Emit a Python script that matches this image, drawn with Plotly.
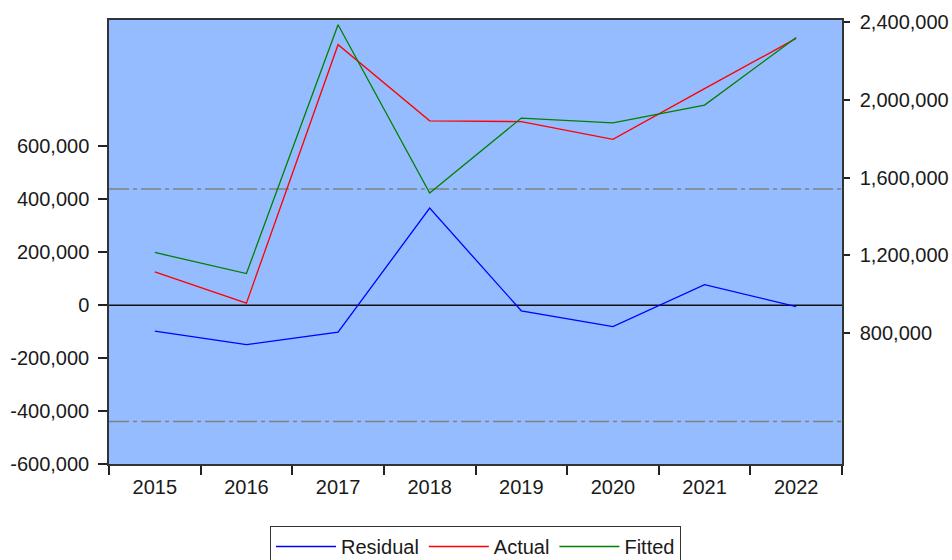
import plotly.graph_objects as go

years = ["2015", "2016", "2017", "2018", "2019", "2020", "2021", "2022"]
residual = [-98000, -149000, -102000, 367000, -21000, -81000, 78000, -5000]
actual = [1116000, 955000, 2282000, 1891000, 1887000, 1796000, 2056000, 2314000]
fitted = [1215000, 1107000, 2384000, 1520000, 1905000, 1880000, 1972000, 2319000]

left_ticks = [-600000, -400000, -200000, 0, 200000, 400000, 600000]
right_ticks = [800000, 1200000, 1600000, 2000000, 2400000]
std_band = 439000

FONT = "Liberation Sans, Arial, sans-serif"
TXT = "#1a1a1a"

fig = go.Figure()
fig.add_trace(go.Scatter(x=years, y=residual, name="Residual", mode="lines",
                         line=dict(color="#0000FF", width=1.3), yaxis="y"))
fig.add_trace(go.Scatter(x=years, y=actual, name="Actual", mode="lines",
                         line=dict(color="#FF0000", width=1.3), yaxis="y2"))
fig.add_trace(go.Scatter(x=years, y=fitted, name="Fitted", mode="lines",
                         line=dict(color="#008000", width=1.3), yaxis="y2"))

for v in (std_band, -std_band):
    fig.add_shape(type="line", xref="paper", yref="y", x0=0, x1=1, y0=v, y1=v,
                  line=dict(color="#808080", width=1.5, dash="20px,4px,4px,4px"),
                  layer="below")
fig.add_shape(type="line", xref="paper", yref="y", x0=0, x1=1, y0=0, y1=0,
              line=dict(color="#111111", width=1.5), layer="below")

fig.update_layout(
    width=952, height=560,
    margin=dict(l=109, r=110, t=20, b=96, autoexpand=False),
    paper_bgcolor="white",
    plot_bgcolor="#95BCFE",
    font=dict(family=FONT, size=20, color=TXT),
    showlegend=True,
    legend=dict(orientation="h", x=0.5, xanchor="center", y=-0.1396, yanchor="top",
                bgcolor="white", bordercolor="#333333", borderwidth=1,
                font=dict(family=FONT, size=20, color=TXT),
                itemwidth=60, tracegroupgap=0),
    xaxis=dict(type="category", tickson="boundaries", ticks="outside", ticklen=9,
               tickcolor="#222", tickwidth=1.5, showgrid=False, zeroline=False,
               showline=True, linecolor="#333", linewidth=1.5, mirror=True,
               automargin=False, ticklabelstandoff=4,
               tickfont=dict(family=FONT, size=20, color=TXT), range=[-0.5, 7.5]),
    yaxis=dict(range=[-600000, 1078000], tickvals=left_ticks,
               ticktext=[f"{v:,}" for v in left_ticks],
               ticks="outside", ticklen=9, tickcolor="#222", tickwidth=1.5,
               ticklabelstandoff=5, automargin=False,
               showgrid=False, zeroline=False, showline=True, linecolor="#333",
               linewidth=1.5, tickfont=dict(family=FONT, size=20, color=TXT)),
    yaxis2=dict(range=[128900, 2408700], tickvals=right_ticks,
                ticktext=[f"{v:,}" for v in right_ticks],
                overlaying="y", side="right", automargin=False,
                ticks="outside", ticklen=6, tickcolor="#222", tickwidth=1.5,
                ticklabelstandoff=6,
                showgrid=False, zeroline=False, showline=True, linecolor="#333",
                linewidth=1.5, tickfont=dict(family=FONT, size=20, color=TXT)),
)

fig.write_html("out.html", config={"displayModeBar": False},
               post_script="document.body.style.margin='0';")
